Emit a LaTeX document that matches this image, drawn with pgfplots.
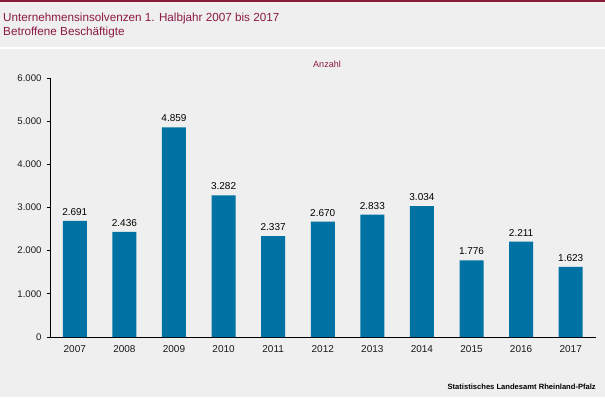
\documentclass[border=0pt]{standalone}
\usepackage{fontspec}
\setmainfont{Liberation Sans}
\usepackage{pgfplots}
\pgfplotsset{compat=1.18}
\definecolor{bg}{RGB}{238,239,238}
\definecolor{maroon}{RGB}{137,26,58}
\definecolor{titlec}{RGB}{140,25,70}
\definecolor{barblue}{RGB}{0,114,163}
\begin{document}
\begin{tikzpicture}
\useasboundingbox (0pt,0pt) rectangle (605pt,397pt);
\fill[bg] (0pt,0pt) rectangle (605pt,397pt);
\fill[maroon] (0pt,395pt) rectangle (605pt,397pt);
\fill[white] (0pt,347.5pt) rectangle (605pt,349.5pt);
\node[anchor=base west,inner sep=0pt,text=titlec,font=\fontsize{11.7}{14}\selectfont] at (3pt,375.5pt) {Unternehmensinsolvenzen 1. Halbjahr 2007 bis 2017};
\node[anchor=base west,inner sep=0pt,text=titlec,font=\fontsize{11.7}{14}\selectfont] at (3pt,361.5pt) {Betroffene Beschäftigte};
\node[anchor=base,inner sep=0pt,text=titlec,font=\fontsize{9}{10}\selectfont] at (327pt,329pt) {Anzahl};
\node[anchor=base east,inner sep=0pt,font=\bfseries\fontsize{7.6}{9}\selectfont] at (596pt,7.5pt) {Statistisches Landesamt Rheinland-Pfalz};
\begin{axis}[
  at={(50pt,60pt)}, anchor=south west,
  scale only axis, width=545.5pt, height=259pt,
  xmin=-0.5, xmax=10.5, ymin=0, ymax=6000,
  axis lines*=left,
  axis line style={black, line width=0.8pt},
  ytick={0,1000,...,6000},
  xtick={0,...,10},
  xticklabels={2007,2008,2009,2010,2011,2012,2013,2014,2015,2016,2017},
  major x tick style={draw=none},
  extra x ticks={-0.5,0.5,...,10.5},
  extra x tick labels={},
  extra x tick style={tick style={black,line width=0.8pt}, major tick length=3pt},
  tick align=outside,
  major tick length=3pt,
  y tick style={black,line width=0.8pt},
  scaled y ticks=false,
  /pgf/number format/.cd, 1000 sep={.}, assume math mode=true,
  /pgfplots/.cd,
  yticklabel style={font=\fontsize{9.6}{10}\selectfont, text=black!90, xshift=-2pt},
  xticklabel style={font=\fontsize{10}{11}\selectfont, text=black!90, yshift=-1.5pt},
  ybar, bar width=24pt,
  nodes near coords,
  every node near coord/.append style={font=\fontsize{10}{11}\selectfont, text=black, yshift=2pt},
]
\addplot[fill=barblue, draw=none] coordinates {
(0,2691) (1,2436) (2,4859) (3,3282) (4,2337) (5,2670) (6,2833) (7,3034) (8,1776) (9,2211) (10,1623)};
\end{axis}
\end{tikzpicture}
\end{document}
